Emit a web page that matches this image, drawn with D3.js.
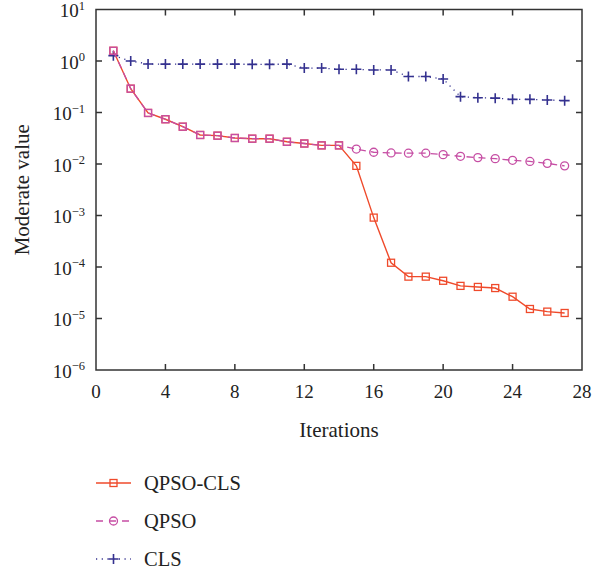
<!DOCTYPE html>
<html>
<head>
<meta charset="utf-8">
<script src="https://cdn.jsdelivr.net/npm/d3@7"></script>
<style>
  body { margin: 0; background: #fff; }
  text { font-family: "Liberation Serif", "DejaVu Serif", serif; fill: #222; }
</style>
</head>
<body>
<svg id="chart" width="609" height="575"></svg>
<script>
// Values
const iterations = d3.range(1, 28);
const qpsoCls = [1.58, 0.29, 0.098, 0.074, 0.053, 0.0366, 0.0355, 0.032, 0.031, 0.031,
  0.027, 0.025, 0.023, 0.023, 0.0092, 0.00091, 1.21e-4, 6.5e-5, 6.5e-5, 5.4e-5,
  4.3e-5, 4.1e-5, 3.9e-5, 2.65e-5, 1.53e-5, 1.36e-5, 1.28e-5];
const qpso = [1.58, 0.29, 0.098, 0.074, 0.053, 0.0366, 0.0355, 0.032, 0.031, 0.031,
  0.027, 0.025, 0.023, 0.023, 0.0195, 0.0169, 0.0164, 0.0162, 0.0162, 0.0152,
  0.0141, 0.0133, 0.0127, 0.0118, 0.0112, 0.0103, 0.0092];
const cls = [1.27, 1.0, 0.875, 0.87, 0.87, 0.87, 0.87, 0.87, 0.86, 0.86,
  0.87, 0.73, 0.73, 0.69, 0.69, 0.67, 0.67, 0.50, 0.50, 0.447,
  0.203, 0.194, 0.19, 0.18, 0.18, 0.175, 0.17];
const xTicks = [0, 4, 8, 12, 16, 20, 24, 28];
const yExponents = [1, 0, -1, -2, -3, -4, -5, -6];
const seriesNames = ["QPSO-CLS", "QPSO", "CLS"];

const svg = d3.select("#chart");
const mLeft = 96, mRight = 582, mTop = 9.5, mBottom = 370;

const x = d3.scaleLinear().domain([0, 28]).range([mLeft, mRight]);
const y = d3.scaleLog().domain([1e-6, 10]).range([mBottom, mTop]);

const red = "#ef4a2b", pink = "#c64ea4", blue = "#34318f";

// frame with inward ticks
const g = svg.append("g").attr("stroke", "#333").attr("stroke-width", 1.5);
g.append("rect").attr("x", mLeft).attr("y", mTop).attr("width", mRight - mLeft)
  .attr("height", mBottom - mTop).attr("fill", "none");

xTicks.slice(1, -1).forEach(t => {
  g.append("line").attr("x1", x(t)).attr("x2", x(t)).attr("y1", mBottom).attr("y2", mBottom - 6);
  g.append("line").attr("x1", x(t)).attr("x2", x(t)).attr("y1", mTop).attr("y2", mTop + 6);
});
yExponents.slice(1, -1).forEach(e => {
  const yy = y(Math.pow(10, e));
  g.append("line").attr("x1", mLeft).attr("x2", mLeft + 6).attr("y1", yy).attr("y2", yy);
  g.append("line").attr("x1", mRight).attr("x2", mRight - 6).attr("y1", yy).attr("y2", yy);
});

// tick labels
svg.append("g").selectAll("text").data(xTicks).join("text")
  .attr("x", d => x(d)).attr("y", mBottom + 28)
  .attr("text-anchor", "middle").attr("font-size", 19).text(d => d);

const yl = svg.append("g").selectAll("text").data(yExponents).join("text")
  .attr("x", 85).attr("y", d => y(Math.pow(10, d)) + 7.5)
  .attr("text-anchor", "end").attr("font-size", 19);
yl.append("tspan").text("10");
yl.append("tspan").attr("dy", -7.5).attr("font-size", 12.5)
  .text(d => d < 0 ? "\u2212" + (-d) : d);

svg.append("text").attr("x", (mLeft + mRight) / 2).attr("y", 437)
  .attr("text-anchor", "middle").attr("font-size", 21).text("Iterations");
svg.append("text").attr("transform", "translate(29," + (mBottom + mTop) / 2 + ") rotate(-90)")
  .attr("text-anchor", "middle").attr("font-size", 21).text("Moderate value");

const line = d3.line().x((d, i) => x(iterations[i])).y(d => y(d));

function square(sel, color) {
  sel.append("rect").attr("width", 7).attr("height", 7).attr("x", -3.5).attr("y", -3.5)
    .attr("fill", "none").attr("stroke", color).attr("stroke-width", 1.3);
}
function circle(sel, color) {
  sel.append("circle").attr("r", 4).attr("fill", "none")
    .attr("stroke", color).attr("stroke-width", 1.3);
}
function cross(sel, color) {
  sel.append("path").attr("d", "M-5,0H5M0,-5V5")
    .attr("stroke", color).attr("stroke-width", 1.6);
}

// CLS
svg.append("path").datum(cls).attr("d", line).attr("fill", "none")
  .attr("stroke", blue).attr("stroke-width", 1.3).attr("stroke-dasharray", "1.2,4.5");
svg.append("g").selectAll("g").data(cls).join("g")
  .attr("transform", (d, i) => "translate(" + x(iterations[i]) + "," + y(d) + ")")
  .call(cross, blue);

// QPSO-CLS
svg.append("path").datum(qpsoCls).attr("d", line).attr("fill", "none")
  .attr("stroke", red).attr("stroke-width", 1.4);
svg.append("g").selectAll("g").data(qpsoCls).join("g")
  .attr("transform", (d, i) => "translate(" + x(iterations[i]) + "," + y(d) + ")")
  .call(square, red);

// QPSO: where it coincides with QPSO-CLS the squares are overdrawn in its colour
svg.append("path").datum(qpso).attr("d", line).attr("fill", "none")
  .attr("stroke", pink).attr("stroke-width", 1.3).attr("stroke-dasharray", "7,5");
svg.append("g").selectAll("g").data(qpso).join("g")
  .attr("transform", (d, i) => "translate(" + x(iterations[i]) + "," + y(d) + ")")
  .each(function(d, i) {
    if (d === qpsoCls[i]) square(d3.select(this), pink);
    else circle(d3.select(this), pink);
  });

// legend
const legendY = [483, 521, 559];
const styles = [
  { color: red, dash: null, mark: square },
  { color: pink, dash: "7,6", mark: circle },
  { color: blue, dash: "1.2,4.5", mark: cross }
];
const lg = svg.append("g");
seriesNames.forEach((name, i) => {
  const s = styles[i];
  lg.append("line").attr("x1", 96).attr("x2", 131).attr("y1", legendY[i]).attr("y2", legendY[i])
    .attr("stroke", s.color).attr("stroke-width", 1.4).attr("stroke-dasharray", s.dash);
  lg.append("g").attr("transform", "translate(113.5," + legendY[i] + ")").call(s.mark, s.color);
  lg.append("text").attr("x", 144).attr("y", legendY[i] + 7).attr("font-size", 20.5).text(name);
});
</script>
</body>
</html>
